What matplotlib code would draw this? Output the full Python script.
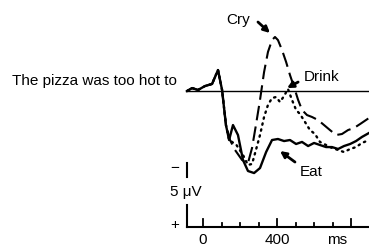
import matplotlib.pyplot as plt

plt.rcParams["font.family"] = ["Liberation Sans", "DejaVu Sans"]

# time (ms) and amplitude (uV, positive plotted downward)
eat_t = [-86, -59, -27, 11, 49, 81, 103, 124, 141, 162, 189, 216, 243, 276,
         308, 341, 373, 405, 438, 470, 503, 535, 568, 600, 632, 665, 697,
         730, 762, 795, 827, 859, 897]
eat_v = [0, -0.23, -0.08, -0.39, -0.55, -1.64, -0.08, 2.66, 3.83, 2.66,
         3.44, 5.39, 6.25, 6.41, 6.02, 4.77, 3.83, 3.75, 3.91, 3.83, 4.14,
         3.98, 4.30, 4.06, 4.22, 4.38, 4.38, 4.53, 4.30, 4.14, 3.91, 3.59,
         3.28]

cry_t = [-86, -59, -27, 11, 49, 81, 103, 124, 146, 173, 211, 243, 265, 286,
         308, 330, 351, 373, 389, 405, 427, 449, 470, 492, 514, 535, 562,
         589, 622, 654, 686, 719, 751, 784, 816, 849, 897]
cry_v = [0, -0.23, -0.08, -0.39, -0.55, -1.64, -0.08, 2.66, 3.83, 4.61,
         5.39, 5.63, 4.45, 2.66, 0.70, -1.48, -3.05, -3.98, -4.22, -3.98,
         -3.20, -2.27, -1.25, -0.31, 0.70, 1.48, 1.88, 2.03, 2.27, 2.66,
         3.05, 3.44, 3.36, 3.05, 2.89, 2.58, 2.11]

drink_t = [-86, -59, -27, 11, 49, 81, 103, 124, 141, 180, 216, 243, 265,
           286, 308, 330, 351, 373, 395, 416, 438, 459, 481, 503, 524, 551,
           578, 605, 632, 665, 697, 730, 762, 795, 827, 859, 897]
drink_v = [0, -0.23, -0.08, -0.39, -0.55, -1.64, -0.08, 2.66, 3.83, 4.2,
           5.0, 5.78, 5.70, 4.61, 3.44, 2.03, 1.09, 0.55, 0.47, 0.86, 0.39,
           -0.16, 0.70, 1.48, 1.80, 2.42, 3.05, 3.36, 3.98, 4.22, 4.45,
           4.61, 4.77, 4.53, 4.38, 4.06, 3.83]

tick_ms = [0, 100, 200, 300, 400, 500, 600, 700, 800]
tick_labels = {0: "0", 400: "400"}

fig = plt.figure(figsize=(3.69, 2.46), dpi=100)
ax = fig.add_axes([0, 0, 1, 1])
ax.set_xlim(-1097, 897)
ax.set_ylim(12.11, -7.11)
ax.axis("off")

fs = 11

# baseline
ax.plot([-90, 897], [0, 0], color="black", lw=1.0)

ax.plot(eat_t, eat_v, color="black", lw=1.7)
ax.plot(cry_t, cry_v, color="black", lw=1.5, dashes=(7, 3))
ax.plot(drink_t, drink_v, color="black", lw=1.7, dashes=(0.6, 2.0),
        dash_capstyle="round")

# labels with arrows
ax.text(-140, -0.8, "The pizza was too hot to", ha="right", va="center",
        fontsize=fs)
ax.text(189, -5.55, "Cry", ha="center", va="center", fontsize=fs)
ax.text(643, -1.1, "Drink", ha="center", va="center", fontsize=fs)
ax.text(584, 6.33, "Eat", ha="center", va="center", fontsize=fs)

arrow = dict(arrowstyle="-|>", color="black", lw=2.0, shrinkA=0,
             shrinkB=0, mutation_scale=9)
ax.annotate("", xy=(362, -4.53), xytext=(297, -5.39), arrowprops=arrow)
ax.annotate("", xy=(454, -0.23), xytext=(514, -0.70), arrowprops=arrow)
ax.annotate("", xy=(416, 4.69), xytext=(497, 5.55), arrowprops=arrow)

# calibration bar and time axis
ax.plot([-86, -86], [5.62, 6.72], color="black", lw=1.5)
ax.plot([-86, -86], [8.91, 10.63], color="black", lw=1.5)
ax.text(-151, 6.0, "\u2212", ha="center", va="center", fontsize=fs)
ax.text(-151, 10.45, "+", ha="center", va="center", fontsize=fs)
ax.text(-95, 7.9, "5 \u03bcV", ha="center", va="center", fontsize=fs)
ax.plot([-86, 897], [10.63, 10.63], color="black", lw=1.5)
for t in tick_ms:
    h = 0.65 if t in (0, 400, 800) else 0.35
    ax.plot([t, t], [10.63, 10.63 - h], color="black", lw=1.3)
    if t in tick_labels:
        ax.text(t, 11.64, tick_labels[t], ha="center", va="center",
                fontsize=fs)
ax.text(724, 11.64, "ms", ha="center", va="center", fontsize=fs)

fig.savefig("out.png", dpi=100)
